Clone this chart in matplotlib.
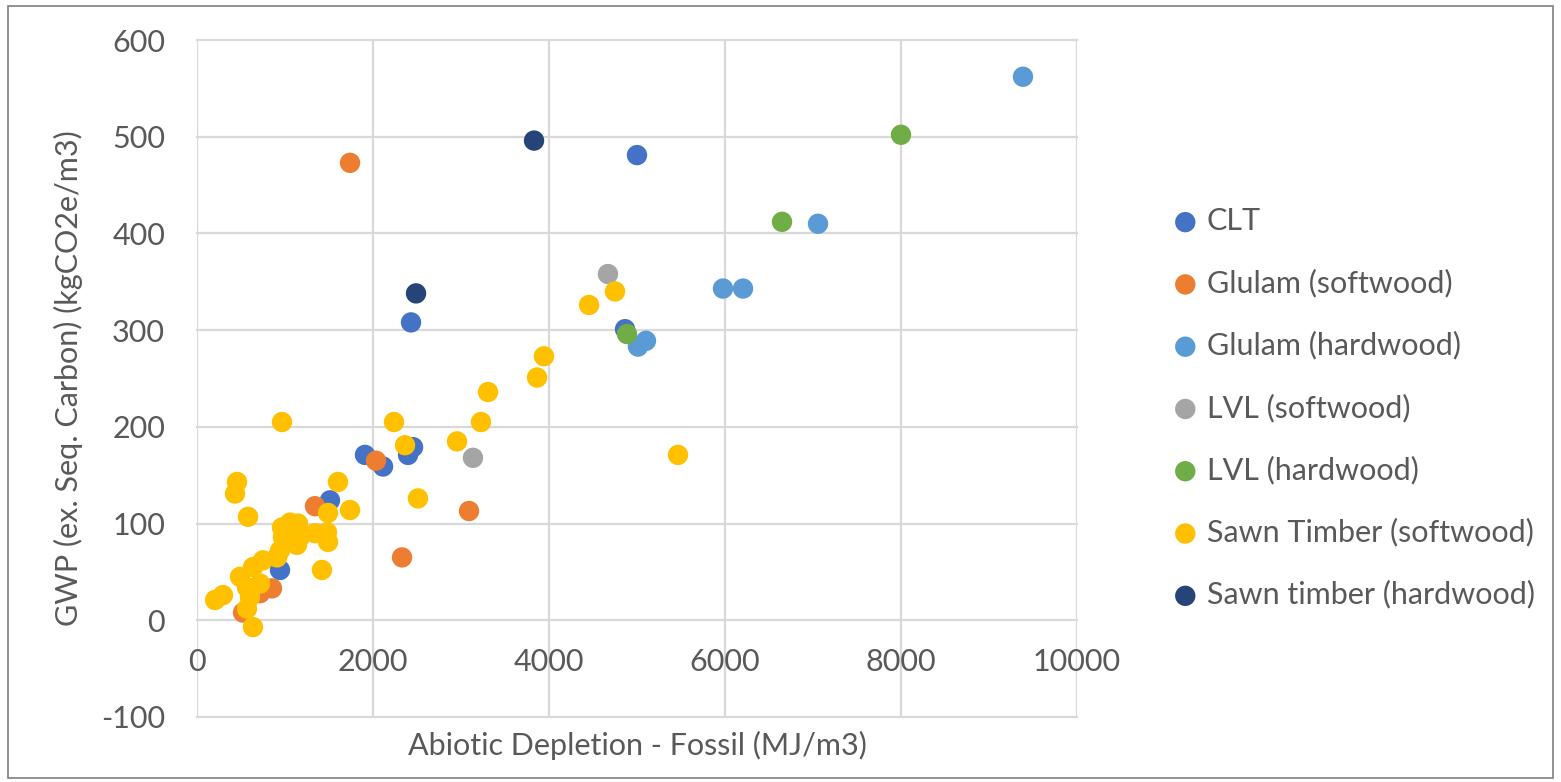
import matplotlib
matplotlib.use("Agg")
import matplotlib.pyplot as plt

plt.rcParams['font.family'] = ['Lato', 'DejaVu Sans']

series_names = ["CLT", "Glulam (softwood)", "Glulam (hardwood)", "LVL (softwood)",
                "LVL (hardwood)", "Sawn Timber (softwood)", "Sawn timber (hardwood)"]
colors = ["#4472C4", "#ED7D31", "#5B9BD5", "#A5A5A5", "#70AD47", "#FFC000", "#264478"]

clt_x = [5000, 2432, 4864, 1909, 2114, 2398, 2455, 1511, 943]
clt_y = [481, 308, 301, 171, 159, 171, 179, 124, 52]

glulam_soft_x = [1739, 2034, 1341, 3091, 2330, 852, 716, 523]
glulam_soft_y = [473, 165, 118, 113, 65, 33, 28, 8]

glulam_hard_x = [9386, 7057, 5977, 6205, 5011, 5102]
glulam_hard_y = [562, 410, 343, 343, 283, 289]

lvl_soft_x = [4670, 3136]
lvl_soft_y = [358, 168]

lvl_hard_x = [8000, 6648, 4886]
lvl_hard_y = [502, 412, 296]

sawn_soft_x = [4455, 4750, 3943, 3864, 3307, 3227, 2955, 2239, 2364, 2511, 5466,
               1602, 1739, 966, 455, 432, 580, 1489, 1057, 1148, 966, 977, 1170,
               1341, 1477, 1489, 1136, 943, 909, 750, 636, 489, 568, 716, 602,
               295, 205, 568, 636, 1420]
sawn_soft_y = [326, 340, 273, 251, 236, 205, 185, 205, 181, 126, 171,
               143, 114, 205, 143, 131, 107, 111, 101, 100, 96, 86, 86,
               90, 91, 81, 78, 72, 65, 62, 55, 45, 34, 38, 24,
               26, 21, 12, -7, 52]

sawn_hard_x = [3830, 2489]
sawn_hard_y = [496, 338]

xs = [clt_x, glulam_soft_x, glulam_hard_x, lvl_soft_x, lvl_hard_x, sawn_soft_x, sawn_hard_x]
ys = [clt_y, glulam_soft_y, glulam_hard_y, lvl_soft_y, lvl_hard_y, sawn_soft_y, sawn_hard_y]

x_ticks = [0, 2000, 4000, 6000, 8000, 10000]
y_ticks = [-100, 0, 100, 200, 300, 400, 500, 600]

W, H = 1561, 782
fig = plt.figure(figsize=(W / 100, H / 100), dpi=100)
ax = fig.add_axes([197 / W, 1 - 717 / H, (1077 - 197) / W, (717 - 40) / H])

for i, (name, c) in enumerate(zip(series_names, colors)):
    ax.scatter(xs[i], ys[i], s=215, color=c, edgecolors='none', label=name, zorder=3 + i)

ax.set_xlim(0, 10000)
ax.set_ylim(-100, 600)
ax.set_xticks(x_ticks)
ax.set_yticks(y_ticks)
ax.set_xticklabels([str(v) for v in x_ticks])
ax.set_yticklabels([str(v) for v in y_ticks])

grid_c = "#D9D9D9"
ax.grid(True, color=grid_c, linewidth=1.6, zorder=0)
ax.set_axisbelow(True)
for g in ax.get_xgridlines() + ax.get_ygridlines():
    g.set_clip_on(False)
for s in ax.spines.values():
    s.set_visible(False)
ax.spines['bottom'].set_position(('data', 0))

fs = 22
text_c = "#595959"
ax.tick_params(axis='both', length=0, labelsize=fs, labelcolor=text_c)
ax.tick_params(axis='x', pad=20)
ax.tick_params(axis='y', pad=23)

ax.set_xlabel("Abiotic Depletion - Fossil (MJ/m3)", fontsize=fs, color=text_c)
ax.xaxis.set_label_coords(0.5, -0.02)
ax.set_ylabel("GWP (ex. Seq. Carbon) (kgCO2e/m3)", fontsize=fs, color=text_c)
ax.yaxis.set_label_coords(-0.13, 0.5)

leg = fig.legend(loc='center left', bbox_to_anchor=(1170 / W, 1 - 408 / H),
                 frameon=False, fontsize=fs, labelspacing=1.1, handlelength=1.0,
                 handletextpad=0.2, markerscale=1.0, borderpad=0, borderaxespad=0)
for t in leg.get_texts():
    t.set_color(text_c)

# outer border
fig.patches.append(plt.Rectangle((8 / W, 4 / H), (W - 16) / W, (H - 10) / H,
                                 transform=fig.transFigure, fill=False,
                                 edgecolor="#7F7F7F", linewidth=1.2))

fig.savefig("out.png", dpi=100, facecolor="white")
